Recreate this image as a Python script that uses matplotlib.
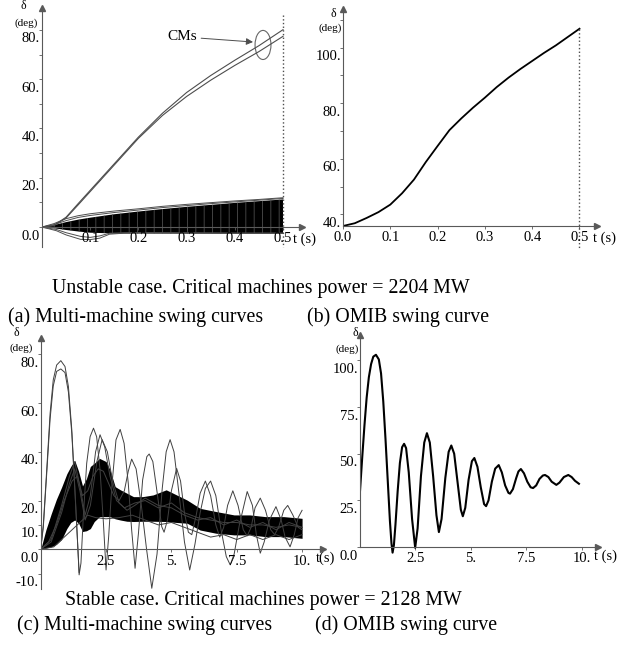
import matplotlib.pyplot as plt
from matplotlib.patches import Ellipse

plt.rcParams['font.family'] = ['Liberation Serif', 'DejaVu Serif']
plt.rcParams['hatch.linewidth'] = 0.6

W, H = 627, 650
AXC = '0.35'

# ---------------- (a) unstable, multi-machine ----------------
t_a = [0, .025, .05, .075, .1, .15, .2, .25, .3, .35, .4, .45, .5]
cm1_a = [0, 0.7, 4.0, 9.5, 14.9, 25.7, 36.5, 46.2, 54.6, 61.5, 67.7, 73.6, 80.1]
cm2_a = [0, 0.6, 3.7, 9.0, 14.4, 25.2, 36.0, 45.3, 53.0, 59.6, 65.6, 71.2, 77.4]
band_hi_a = [0, 0.8, 2.0, 3.0, 3.8, 5.2, 6.3, 7.3, 8.2, 9.0, 9.8, 10.5, 11.2]
band_lo_a = [0, -0.5, -1.2, -1.8, -2.3, -2.6, -2.6, -2.6, -2.6, -2.6, -2.6, -2.6, -2.6]
env1_a = [0, 1.4, 3.4, 4.6, 5.4, 6.5, 7.4, 8.4, 9.2, 9.9, 10.6, 11.2, 11.9]
env2_a = [0, 1.0, 2.6, 3.9, 4.7, 5.9, 6.9, 7.9, 8.7, 9.5, 10.2, 10.9, 11.6]
t_dip = [0, .03, .05, .08, .1, .12, .14, .17, .2, .3, .4, .5]
dip1_a = [0, -1.5, -3.2, -5.0, -5.1, -4.5, -2.9, -2.5, -2.4, -2.5, -2.6, -2.6]
dip2_a = [0, -1.0, -2.3, -3.8, -4.2, -3.6, -2.5, -2.3, -2.2, -2.3, -2.4, -2.4]

# ---------------- (b) unstable, OMIB ----------------
t_b = [0, .025, .05, .075, .1, .125, .15, .175, .2, .225, .25, .275, .3,
       .325, .35, .375, .4, .425, .45, .475, .5]
omib_b = [35.8, 36.8, 38.7, 40.8, 43.5, 47.6, 52.5, 58.8, 64.6, 70.3, 74.5,
          78.4, 82.0, 85.8, 89.2, 92.3, 95.2, 98.1, 100.8, 103.8, 106.8]

# ---------------- (c) stable, multi-machine ----------------
t_cm_c = [0, .1, .23, .36, .48, .61, .77, .93, 1.06, 1.19, 1.31, 1.40, 1.47,
          1.54, 1.63, 1.76, 1.89, 2.02, 2.14, 2.27, 2.40, 2.50, 2.60, 2.72,
          2.88, 3.04, 3.19, 3.35, 3.48, 3.61, 3.74, 3.90, 4.06, 4.15, 4.29,
          4.44, 4.63, 4.72, 4.85, 5.0, 5.2, 5.35, 5.5, 5.65, 5.78, 5.95, 6.1,
          6.3, 6.5, 6.7, 6.85, 7.0, 7.15, 7.35, 7.55, 7.75, 7.9, 8.05, 8.2,
          8.4, 8.6, 8.8, 8.95, 9.1, 9.3, 9.45, 9.65, 9.85, 10.0]
cm1_c = [0, 10, 32.6, 55.8, 69.5, 75.6, 77.4, 75, 66.8, 49, 24.4, 5.2, -10.5,
         -5.7, 13.4, 35.3, 46.2, 49.7, 46.2, 32.6, 10.7, -8.5, 5.2, 25.7,
         44.9, 49.2, 43.5, 27.1, 7.9, -7.8, 6.6, 28.5, 38, 39.1, 36, 24.4,
         9.3, 7, 12, 24, 33.2, 28, 15, 7, 6, 14, 23, 28, 22, 10, 5, 9, 18,
         24, 18, 8, 5.5, 9, 17, 21, 16, 8, 6, 9, 16, 18, 14, 9, 8]
t_cm2_c = [0, .1, .23, .36, .48, .61, .77, .93, 1.06, 1.19, 1.31, 1.40, 1.47]
cm2_c = [0, 9, 31, 53.5, 67, 73, 74, 72.5, 64.5, 47.5, 23.5, 5, -9.5]

t_c2 = [0, .3, .6, .9, 1.2, 1.4, 1.6, 1.8, 2.0, 2.2, 2.4, 2.6, 2.8, 3.0, 3.2,
        3.35, 3.48, 3.65, 3.85, 4.05, 4.25, 4.45, 4.65, 4.8, 4.95, 5.1, 5.3,
        5.5, 5.7, 5.9, 6.1, 6.3, 6.5, 6.7, 6.9, 7.1, 7.25, 7.4, 7.6, 7.9, 8.1,
        8.25, 8.4, 8.55, 8.75, 9.0, 9.2, 9.35, 9.54, 9.7, 9.85, 10.0]
c2_c = [0, 3, 10, 20, 28, 30, 22, 24, 30, 33, 32, 27, 22, 20, 24, 32, 37, 33,
        18, 0, -16, -2, 25, 40, 45, 40, 22, 3, -8.5, 2, 15, 25, 28, 22, 8, -3,
        -6.4, -2, 10, 23.7, 18, 6, -1.6, 3, 12, 17.5, 12, 5, 1, 6, 13, 16]

t_c3 = [0, .4, .8, 1.1, 1.3, 1.5, 1.7, 1.9, 2.1, 2.27, 2.45, 2.65, 2.9, 3.2,
        3.6, 4.0, 4.5, 5.0, 5.5, 6.0, 6.5, 7.0, 7.5, 8.0, 8.5, 9.0, 9.5, 10.0]
c3_c = [0, 4, 18, 30, 36, 26, 14, 22, 40, 47, 42, 30, 20, 17, 19, 20, 17, 19,
        15, 13, 12, 11, 11, 10, 10, 9, 10, 9]
t_c4 = [0, .4, .8, 1.1, 1.3, 1.5, 1.7, 1.9, 2.15, 2.35, 2.55, 2.75, 3.0, 3.3,
        3.6, 4.0, 4.5, 5.0, 5.5, 6.0, 6.5, 7.0, 7.5, 8.0, 8.5, 9.0, 9.5, 10.0]
c4_c = [0, 3, 15, 27, 33, 24, 12, 18, 36, 45, 40, 28, 19, 16, 18, 21, 18, 17,
        14, 12, 13, 10, 12, 9, 11, 8, 11, 9]
t_c5 = [0, .5, 1, 1.5, 1.8, 2.1, 2.5, 3, 3.5, 4, 4.5, 5, 5.5, 6, 6.5, 7, 7.5,
        8, 8.5, 9, 9.5, 10]
c5_c = [0, 1, 6, 11, 14, 13, 12.5, 13, 14, 12, 10, 11, 9, 7, 5, 6, 4, 6, 4, 6,
        4, 6]

t_band_c = [0, .2, .4, .6, .8, 1.0, 1.15, 1.3, 1.45, 1.6, 1.75, 1.9, 2.05,
            2.25, 2.5, 2.65, 2.85, 3.05, 3.3, 3.55, 3.9, 4.3, 4.8, 5.2, 5.6,
            6.1, 6.7, 7.4, 8.0, 8.6, 9.3, 10.0]
band_hi_c = [0, 8, 14.5, 20.5, 25.5, 31, 34, 36.5, 32, 26, 29, 34, 35.3, 37.3,
             36, 32.6, 25.7, 24.4, 23, 21.6, 21.6, 22.3, 24.4, 22.3, 20.2,
             16.8, 15.5, 14.1, 14.1, 13.4, 13.4, 12.7]
band_lo_c = [0, 0.5, 1, 2, 4, 8.5, 11, 12, 10.7, 7.3, 7.6, 8.5, 11.4, 13.4,
             13.4, 13.4, 12.5, 12, 11.5, 11.4, 11.5, 11.5, 11.4, 11, 10.7, 7.9,
             6.6, 5.9, 5.9, 5.2, 5.2, 4.5]

# ---------------- (d) stable, OMIB ----------------
t_d = [0, .1, .2, .3, .4, .5, .6, .72, .85, .95, 1.05, 1.15, 1.25, 1.35, 1.42,
       1.47, 1.53, 1.6, 1.7, 1.8, 1.9, 1.99, 2.08, 2.2, 2.35, 2.49, 2.6, 2.75,
       2.9, 3.02, 3.15, 3.3, 3.45, 3.56, 3.68, 3.85, 4.0, 4.12, 4.25, 4.4,
       4.55, 4.64, 4.75, 4.9, 5.05, 5.16, 5.3, 5.45, 5.6, 5.69, 5.8, 5.95,
       6.1, 6.26, 6.4, 6.55, 6.7, 6.77, 6.9, 7.05, 7.15, 7.26, 7.4, 7.55, 7.7,
       7.81, 7.95, 8.1, 8.25, 8.35, 8.5, 8.65, 8.86, 9.0, 9.2, 9.4, 9.55, 9.7,
       9.88]
omib_d = [30, 48, 65, 80, 91, 98, 102, 103, 100.5, 93, 78, 58, 36, 14, 2, -3,
          1, 12, 30, 45, 53.5, 55.3, 53, 40, 15, -0.4, 10, 38, 56, 61, 56, 38,
          17, 8, 15, 37, 51, 54.4, 50, 35, 20, 16.5, 21, 36, 46, 47.7, 43, 32,
          23, 21.9, 25, 35, 42, 43.9, 40, 33, 29, 28.6, 31, 37, 40.5, 41.8,
          39.5, 35, 32, 31.6, 33, 36.5, 38.3, 38.6, 37.5, 35, 33.3, 34.5, 37.5,
          38.6, 37.5, 35.5, 33.9]

TICK_FS = 10.5


def px(x, y):
    return x / W, 1 - y / H


def style(ax, xlim, ylim, y0, yt, ylab, xt, xlab, ymin=(), below=True):
    ax.set_xlim(xlim)
    ax.set_ylim(ylim)
    ax.patch.set_alpha(0)
    for s in ['top', 'right']:
        ax.spines[s].set_visible(False)
    ax.spines['left'].set_position(('data', 0))
    ax.spines['bottom'].set_position(('data', y0))
    for s in ['left', 'bottom']:
        ax.spines[s].set_color(AXC)
        ax.spines[s].set_linewidth(0.8)
    if not below:
        ax.spines['left'].set_bounds(y0, ylim[1])
    ax.set_yticks(yt)
    ax.set_yticks(list(ymin), minor=True)
    ax.set_xticks(xt)
    ax.set_yticklabels([])
    ax.set_xticklabels([])
    ax.tick_params(which='both', colors=AXC, length=2.5, width=0.6)
    for v, s in zip(yt, ylab):
        ax.annotate(s, (0, v), xytext=(-1.5, -6.5), textcoords='offset points',
                    ha='right', va='center', fontsize=TICK_FS,
                    annotation_clip=False)
    for v, s in zip(xt, xlab):
        ax.annotate(s, (v, y0), xytext=(0, -8.5), textcoords='offset points',
                    ha='center', va='center', fontsize=TICK_FS,
                    annotation_clip=False)
    ax.plot(1, y0, '>', color=AXC, ms=4, transform=ax.get_yaxis_transform(),
            clip_on=False)
    ax.plot(0, 1, '^', color=AXC, ms=4, transform=ax.get_xaxis_transform(),
            clip_on=False)


fig = plt.figure(figsize=(W / 100, H / 100), dpi=100)

# (a)
ax = fig.add_axes([42 / W, (H - 247) / H, 260 / W, 239 / H])
ax.fill_between(t_a, band_lo_a, band_hi_a, facecolor='black',
                edgecolor='0.3', hatch='||', lw=0)
for y in [env1_a, env2_a]:
    ax.plot(t_a, y, color='0.3', lw=0.7)
for y in [dip1_a, dip2_a]:
    ax.plot(t_dip, y, color='0.3', lw=0.7)
for y in [cm1_a, cm2_a]:
    ax.plot(t_a, y, color='0.3', lw=0.8)
ax.plot([0.5, 0.5], [86, -8], ls=':', color='0.3', lw=1, clip_on=False)
ax.add_patch(Ellipse((0.4585, 73.9), 0.033, 11.8, fill=False, color='0.4',
                     lw=0.8))
ax.annotate('CMs', xy=(0.4378, 75.1), xytext=(0.3216, 77.2), ha='right',
            va='center', fontsize=11,
            arrowprops=dict(arrowstyle='-|>', color='0.3', lw=0.7,
                            shrinkA=1, shrinkB=0, mutation_scale=10))
style(ax, (0, 0.5394), (-8.1, 88.9), 0, [0, 20, 40, 60, 80],
      ['0.0', '20.', '40.', '60.', '80.'], [.1, .2, .3, .4, .5],
      ['0.1', '0.2', '0.3', '0.4', '0.5'], ymin=[10, 30, 50, 70])

# (b)
ax = fig.add_axes([343 / W, (H - 226) / H, 254 / W, 217 / H])
ax.plot(t_b, omib_b, color='black', lw=1.3)
ax.plot([0.5, 0.5], [106.8, 27.9], ls=':', color='0.3', lw=1, clip_on=False)
style(ax, (0, 0.537), (35.8, 113.9), 35.8, [40, 60, 80, 100],
      ['40.', '60.', '80.', '100.'], [0, .1, .2, .3, .4, .5],
      ['0.0', '0.1', '0.2', '0.3', '0.4', '0.5'], ymin=[50, 70, 90, 110],
      below=False)

# (c)
ax = fig.add_axes([40.7 / W, (H - 589) / H, 282.3 / W, 251 / H])
ax.fill_between(t_band_c, band_lo_c, band_hi_c, color='black', lw=0)
for tt, y in [(t_c5, c5_c), (t_c3, c3_c), (t_c4, c4_c), (t_c2, c2_c),
              (t_cm_c, cm1_c), (t_cm2_c, cm2_c)]:
    ax.plot(tt, y, color='0.25', lw=0.7)
style(ax, (0, 10.8), (-16.3, 86.7), 0, [-10, 0, 10, 20, 40, 60, 80],
      ['-10.', '0.0', '10.', '20.', '40.', '60.', '80.'], [2.5, 5, 7.5, 10],
      ['2.5', '5.', '7.5', '10.'])

# (d)
ax = fig.add_axes([360 / W, (H - 554.5) / H, 238 / W, 219.5 / H])
ax.plot(t_d, omib_d, color='black', lw=1.5)
style(ax, (0, 10.74), (-4, 113.6), 0, [0, 25, 50, 75, 100],
      ['0.0', '25.', '50.', '75.', '100.'], [2.5, 5, 7.5, 10],
      ['2.5', '5.', '7.5', '10.'], below=False)

# axis names
for x, y, s in [(23, 6, 'δ'), (333, 14, 'δ'), (16, 333, 'δ'), (355, 333, 'δ')]:
    fig.text(*px(x, y), s, ha='center', va='center', fontsize=8.5)
for x, y in [(26, 23), (330, 28), (21, 348), (347, 349)]:
    fig.text(*px(x, y), '(deg)', ha='center', va='center', fontsize=8)
for x, y, s in [(293, 239, 't (s)'), (593, 238, 't (s)'), (316, 558, 't(s)'),
                (594, 556, 't (s)')]:
    fig.text(*px(x, y), s, ha='left', va='center', fontsize=TICK_FS)

# captions
cap = 14.3
fig.text(*px(261, 288), 'Unstable case. Critical machines power = 2204 MW',
         ha='center', va='center', fontsize=cap)
fig.text(*px(8, 317), '(a) Multi-machine swing curves', ha='left',
         va='center', fontsize=cap)
fig.text(*px(307, 317), '(b) OMIB swing curve', ha='left', va='center',
         fontsize=cap)
fig.text(*px(263, 600), 'Stable case. Critical machines power = 2128 MW',
         ha='center', va='center', fontsize=cap)
fig.text(*px(17, 625), '(c) Multi-machine swing curves', ha='left',
         va='center', fontsize=cap)
fig.text(*px(315, 625), '(d) OMIB swing curve', ha='left', va='center',
         fontsize=cap)

fig.savefig('out.png', dpi=100)
